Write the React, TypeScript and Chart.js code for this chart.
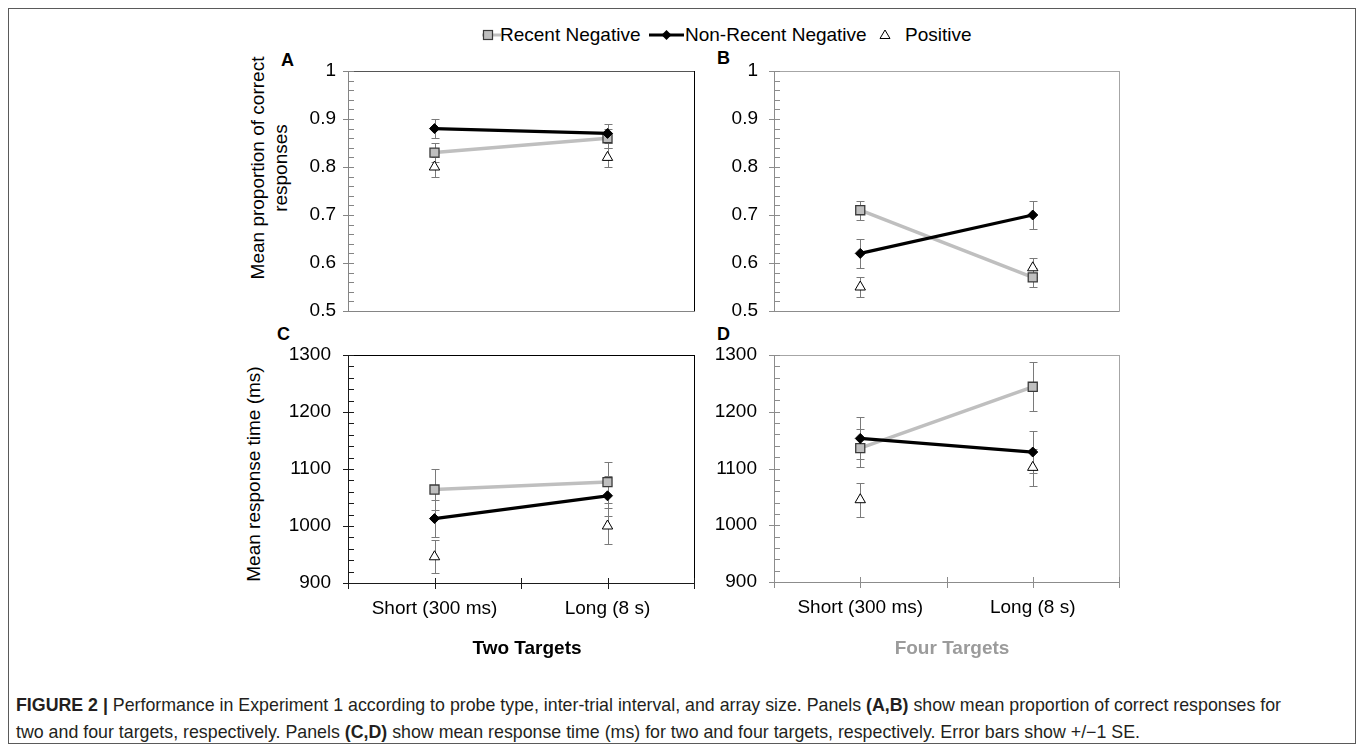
import React, { useEffect, useRef } from 'react';
import { Chart, registerables } from 'chart.js';

Chart.register(...registerables);

// ---------- data ----------
const intervals = ['Short (300 ms)', 'Long (8 s)'];
const seriesNames = ['Recent Negative', 'Non-Recent Negative', 'Positive'];

// Panel A: proportion correct, two targets
const accTwoRecent = [0.83, 0.86];
const accTwoRecentSE = [0.02, 0.02];
const accTwoNonRecent = [0.88, 0.87];
const accTwoNonRecentSE = [0.02, 0.02];
const accTwoPositive = [0.8, 0.82];
const accTwoPositiveSE = [0.02, 0.02];

// Panel B: proportion correct, four targets
const accFourRecent = [0.71, 0.57];
const accFourRecentSE = [0.02, 0.02];
const accFourNonRecent = [0.62, 0.7];
const accFourNonRecentSE = [0.03, 0.03];
const accFourPositive = [0.55, 0.59];
const accFourPositiveSE = [0.02, 0.02];

// Panel C: response time, two targets
const rtTwoRecent = [1064, 1077];
const rtTwoRecentSE = [36, 36];
const rtTwoNonRecent = [1013, 1053];
const rtTwoNonRecentSE = [32, 35];
const rtTwoPositive = [946, 1000];
const rtTwoPositiveSE = [29, 31];

// Panel D: response time, four targets
const rtFourRecent = [1136, 1244];
const rtFourRecentSE = [33, 43];
const rtFourNonRecent = [1153, 1129];
const rtFourNonRecentSE = [37, 37];
const rtFourPositive = [1045, 1102];
const rtFourPositiveSE = [30, 33];

// tick labels
const accTicks = [0.5, 0.6, 0.7, 0.8, 0.9, 1];
const accMinorStep = 0.02;
const rtTicks = [900, 1000, 1100, 1200, 1300];
const rtMinorStep = 20;

const FONT = "'Liberation Sans', Arial, Helvetica, sans-serif";

// ---------- plugins ----------
const framePlugin = {
  id: 'frameAndTicks',
  beforeDatasetsDraw(chart: any) {
    const o = chart.options.plugins.frameAndTicks;
    const { left, right, top, bottom } = chart.chartArea;
    const ctx = chart.ctx;
    const ys = chart.scales.y;
    const xs = chart.scales.x;
    ctx.save();
    ctx.lineWidth = 1;
    ctx.strokeStyle = o.frameColor;
    ctx.beginPath();
    ctx.moveTo(left, top + 0.5);
    ctx.lineTo(right + 0.5, top + 0.5);
    ctx.stroke();
    ctx.strokeStyle = o.rightColor || o.frameColor;
    ctx.beginPath();
    ctx.moveTo(right + 0.5, top);
    ctx.lineTo(right + 0.5, bottom + 0.5);
    ctx.stroke();
    ctx.strokeStyle = o.axisColor;
    ctx.beginPath();
    ctx.moveTo(left + 0.5, top);
    ctx.lineTo(left + 0.5, bottom + 0.5);
    ctx.moveTo(left, bottom + 0.5);
    ctx.lineTo(right + 0.5, bottom + 0.5);
    ctx.stroke();
    const min = ys.min;
    const max = ys.max;
    const n = Math.round((max - min) / o.minorStep);
    ctx.beginPath();
    for (let i = 0; i <= n; i++) {
      const v = min + i * o.minorStep;
      const py = Math.round(ys.getPixelForValue(v)) + 0.5;
      const isMajor = o.majorTicks.some((t: number) => Math.abs(t - v) < o.minorStep / 10);
      ctx.moveTo(left + (isMajor ? -5 : 0), py);
      ctx.lineTo(left + 6, py);
    }
    ctx.stroke();
    if (o.xTicks) {
      const p0 = xs.getPixelForValue(0);
      const p1 = xs.getPixelForValue(1);
      const xsPos = [left, p0, (p0 + p1) / 2, p1, right];
      ctx.beginPath();
      xsPos.forEach((px: number) => {
        const rx = Math.round(px) + 0.5;
        ctx.moveTo(rx, bottom - 5);
        ctx.lineTo(rx, bottom + 6);
      });
      ctx.stroke();
    }
    ctx.restore();
  },
};

const errorBarPlugin = {
  id: 'errorBars',
  beforeDatasetsDraw(chart: any) {
    const ctx = chart.ctx;
    const ys = chart.scales.y;
    ctx.save();
    ctx.strokeStyle = '#7a7a7a';
    ctx.lineWidth = 1;
    chart.data.datasets.forEach((ds: any, i: number) => {
      const meta = chart.getDatasetMeta(i);
      ds.data.forEach((v: number, j: number) => {
        const e = ds.errors[j];
        const el = meta.data[j];
        const x = Math.round(el.x) + 0.5;
        const yt = Math.round(ys.getPixelForValue(v + e)) + 0.5;
        const yb = Math.round(ys.getPixelForValue(v - e)) + 0.5;
        ctx.beginPath();
        ctx.moveTo(x, yt);
        ctx.lineTo(x, yb);
        ctx.moveTo(x - 4, yt);
        ctx.lineTo(x + 4, yt);
        ctx.moveTo(x - 4, yb);
        ctx.lineTo(x + 4, yb);
        ctx.stroke();
      });
    });
    ctx.restore();
  },
};

// ---------- panel ----------
type PanelProps = {
  left: number;
  top: number;
  width: number;
  height: number;
  padTop: number;
  padRight: number;
  yWidth: number;
  xHeight: number;
  yMin: number;
  yMax: number;
  yTicks: number[];
  minorStep: number;
  labelPad: number;
  showX: boolean;
  frameColor: string;
  rightColor?: string;
  axisColor: string;
  recent: number[];
  recentSE: number[];
  nonRecent: number[];
  nonRecentSE: number[];
  positive: number[];
  positiveSE: number[];
};

function Panel(p: PanelProps) {
  const ref = useRef<HTMLCanvasElement>(null);
  useEffect(() => {
    if (!ref.current) return;
    const chart = new Chart(ref.current, {
      type: 'line',
      data: {
        labels: intervals,
        datasets: [
          {
            label: seriesNames[0],
            data: p.recent,
            errors: p.recentSE,
            borderColor: '#bfbfbf',
            borderWidth: 3.5,
            pointStyle: 'rect',
            pointRadius: 6.4,
            pointHoverRadius: 6.4,
            pointBackgroundColor: '#bfbfbf',
            pointBorderColor: '#3a3a3a',
            pointBorderWidth: 1.3,
            order: 2,
          } as any,
          {
            label: seriesNames[1],
            data: p.nonRecent,
            errors: p.nonRecentSE,
            borderColor: '#000000',
            borderWidth: 3.2,
            pointStyle: 'rectRot',
            pointRadius: 5,
            pointHoverRadius: 5,
            pointBackgroundColor: '#000000',
            pointBorderColor: '#000000',
            pointBorderWidth: 1,
            order: 1,
          } as any,
          {
            label: seriesNames[2],
            data: p.positive,
            errors: p.positiveSE,
            showLine: false,
            borderColor: '#000000',
            pointStyle: 'triangle',
            pointRadius: 6,
            pointHoverRadius: 6,
            pointBackgroundColor: '#ffffff',
            pointBorderColor: '#000000',
            pointBorderWidth: 1,
            order: 3,
          } as any,
        ],
      },
      options: {
        responsive: false,
        maintainAspectRatio: false,
        animation: false,
        devicePixelRatio: 1,
        events: [],
        layout: { padding: { top: p.padTop, right: p.padRight, left: 0, bottom: 0 } },
        plugins: {
          legend: { display: false },
          tooltip: { enabled: false },
          frameAndTicks: {
            frameColor: p.frameColor,
            rightColor: p.rightColor,
            axisColor: p.axisColor,
            minorStep: p.minorStep,
            majorTicks: p.yTicks,
            xTicks: p.showX,
          },
        } as any,
        scales: {
          x: {
            type: 'category',
            offset: true,
            grid: { display: false, drawTicks: false },
            border: { display: false },
            ticks: {
              display: p.showX,
              color: '#000',
              font: { family: FONT, size: 19 },
              padding: 14,
              maxRotation: 0,
              autoSkip: false,
            },
            afterFit: (s: any) => {
              s.height = p.xHeight;
            },
          },
          y: {
            type: 'linear',
            min: p.yMin,
            max: p.yMax,
            grid: { display: false, drawTicks: true, tickLength: p.labelPad },
            border: { display: false },
            ticks: {
              color: '#000',
              font: { family: FONT, size: 19 },
              padding: 0,
              callback: (v: any) => String(Number(Number(v).toFixed(2))),
            },
            afterBuildTicks: (s: any) => {
              s.ticks = p.yTicks.map((v) => ({ value: v }));
            },
            afterFit: (s: any) => {
              s.width = p.yWidth;
            },
          },
        },
      } as any,
      plugins: [framePlugin, errorBarPlugin],
    });
    return () => chart.destroy();
  }, []);
  return (
    <canvas
      ref={ref}
      width={p.width}
      height={p.height}
      style={{ position: 'absolute', left: p.left, top: p.top, width: p.width, height: p.height }}
    />
  );
}

const abs = (l: number, t: number, extra: any = {}) => ({ position: 'absolute' as const, left: l, top: t, ...extra });

function LegendIcons() {
  return (
    <>
      <svg style={abs(478, 26)} width={24} height={18}>
        <line x1={4} y1={9} x2={23} y2={9} stroke="#bfbfbf" strokeWidth={3} />
        <rect x={5.5} y={4.5} width={9} height={9} fill="#bfbfbf" stroke="#3a3a3a" strokeWidth={1.2} />
      </svg>
      <svg style={abs(647, 26)} width={40} height={18}>
        <line x1={2} y1={9} x2={37} y2={9} stroke="#000" strokeWidth={3} />
        <polygon points="14.5,9 19.5,4 24.5,9 19.5,14" fill="#000" />
      </svg>
      <svg style={abs(876, 26)} width={18} height={18}>
        <polygon points="9,4 14,12.5 4,12.5" fill="#fff" stroke="#000" strokeWidth={1} />
      </svg>
    </>
  );
}

export default function App() {
  const textBase = { fontFamily: FONT, color: '#000', whiteSpace: 'nowrap' as const };
  const rot = (cx: number, cy: number) => ({
    position: 'absolute' as const,
    left: cx,
    top: cy,
    transform: 'translate(-50%, -50%) rotate(-90deg)',
    textAlign: 'center' as const,
    fontSize: 19,
    lineHeight: '23px',
    ...textBase,
  });
  const letter = (l: number, t: number) => ({ ...abs(l, t), ...textBase, fontSize: 18, fontWeight: 700, lineHeight: '20px' });
  return (
    <div style={{ position: 'absolute', left: 0, top: 0, width: 1357, height: 750, background: '#fff', overflow: 'hidden' }}>
      <div style={abs(8, 8, { width: 1348, height: 736, border: '1px solid #5a5a5a', boxSizing: 'border-box' })} />

      {/* legend */}
      <LegendIcons />
      <div style={{ ...abs(500, 24), ...textBase, fontSize: 19, lineHeight: '22px' }}>Recent Negative</div>
      <div style={{ ...abs(685, 24), ...textBase, fontSize: 19, lineHeight: '22px' }}>Non-Recent Negative</div>
      <div style={{ ...abs(905, 24), ...textBase, fontSize: 19, lineHeight: '22px' }}>Positive</div>

      {/* panel letters */}
      <div style={letter(281, 50)}>A</div>
      <div style={letter(717, 48)}>B</div>
      <div style={letter(277, 324)}>C</div>
      <div style={letter(717, 324)}>D</div>

      {/* y titles */}
      <div style={rot(269, 168)}>
        Mean proportion of correct
        <br />
        responses
      </div>
      <div style={rot(253, 474)}>Mean response time (ms)</div>

      <Panel
        left={290} top={56} width={415} height={270}
        padTop={15} padRight={11} yWidth={58} xHeight={15}
        yMin={0.5} yMax={1} yTicks={accTicks} minorStep={accMinorStep} labelPad={12}
        showX={false} frameColor="#555555" rightColor="#000000" axisColor="#858585"
        recent={accTwoRecent} recentSE={accTwoRecentSE}
        nonRecent={accTwoNonRecent} nonRecentSE={accTwoNonRecentSE}
        positive={accTwoPositive} positiveSE={accTwoPositiveSE}
      />
      <Panel
        left={716} top={56} width={415} height={270}
        padTop={15} padRight={12} yWidth={58} xHeight={15}
        yMin={0.5} yMax={1} yTicks={accTicks} minorStep={accMinorStep} labelPad={16}
        showX={false} frameColor="#a6a6a6" axisColor="#8c8c8c"
        recent={accFourRecent} recentSE={accFourRecentSE}
        nonRecent={accFourNonRecent} nonRecentSE={accFourNonRecentSE}
        positive={accFourPositive} positiveSE={accFourPositiveSE}
      />
      <Panel
        left={290} top={340} width={415} height={300}
        padTop={15} padRight={11} yWidth={58} xHeight={57}
        yMin={900} yMax={1300} yTicks={rtTicks} minorStep={rtMinorStep} labelPad={17}
        showX={true} frameColor="#000000" axisColor="#1a1a1a"
        recent={rtTwoRecent} recentSE={rtTwoRecentSE}
        nonRecent={rtTwoNonRecent} nonRecentSE={rtTwoNonRecentSE}
        positive={rtTwoPositive} positiveSE={rtTwoPositiveSE}
      />
      <Panel
        left={716} top={340} width={415} height={300}
        padTop={15} padRight={12} yWidth={58} xHeight={58}
        yMin={900} yMax={1300} yTicks={rtTicks} minorStep={rtMinorStep} labelPad={17}
        showX={true} frameColor="#a6a6a6" axisColor="#8c8c8c"
        recent={rtFourRecent} recentSE={rtFourRecentSE}
        nonRecent={rtFourNonRecent} nonRecentSE={rtFourNonRecentSE}
        positive={rtFourPositive} positiveSE={rtFourPositiveSE}
      />

      {/* group titles */}
      <div style={{ position: 'absolute', left: 527, top: 648, transform: 'translate(-50%, -50%)', ...textBase, fontSize: 19, fontWeight: 700 }}>
        Two Targets
      </div>
      <div style={{ position: 'absolute', left: 952, top: 648, transform: 'translate(-50%, -50%)', ...textBase, color: '#9b9b9b', fontSize: 19, fontWeight: 700 }}>
        Four Targets
      </div>

      {/* caption */}
      <div style={{ ...abs(16, 692), fontFamily: FONT, fontSize: 17.8, lineHeight: '27px', color: '#231f20', whiteSpace: 'nowrap' }}>
        <b>FIGURE 2 |</b> Performance in Experiment 1 according to probe type, inter-trial interval, and array size. Panels <b>(A,B)</b> show mean proportion of correct responses for
        <br />
        two and four targets, respectively. Panels <b>(C,D)</b> show mean response time (ms) for two and four targets, respectively. Error bars show +/−1 SE.
      </div>
    </div>
  );
}
